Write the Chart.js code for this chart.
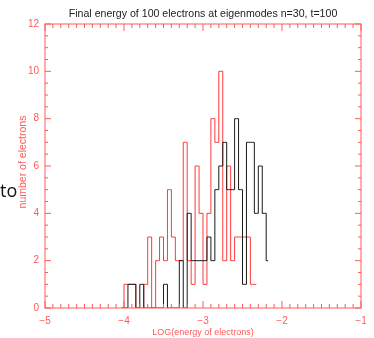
<!DOCTYPE html>
<html>
<head>
<meta charset="utf-8">
<script src="https://cdn.jsdelivr.net/npm/chart.js@4"></script>
<style>
  body { margin: 0; background: #fff; }
  #wrap { position: relative; width: 374px; height: 338px; overflow: hidden; }
  #stray { position: absolute; left: 0px; top: 178px; font: 18px "Open Sans", sans-serif; color: #111; }
</style>
</head>
<body>
<div id="wrap">
  <canvas id="chart" width="374" height="338"></canvas>
  <div id="stray">to</div>
</div>
<script>
// histogram bin centres, LOG(energy)
const binCenters = [
  -4.025, -3.975, -3.925, -3.875, -3.825, -3.775, -3.725, -3.675, -3.625, -3.575,
  -3.525, -3.475, -3.425, -3.375, -3.325, -3.275, -3.225, -3.175, -3.125, -3.075,
  -3.025, -2.975, -2.925, -2.875, -2.825, -2.775, -2.725, -2.675, -2.625, -2.575,
  -2.525, -2.475, -2.425, -2.375, -2.325, -2.275, -2.225, -2.175
];
// red curve stops at -2.325
const redCounts = [
  0, 1, 1, 1, 0, 0, 1, 3, 0, 2,
  3, 2, 5, 3, 2, 2, 7, 2, 1, 6,
  4, 1, 4, 8, 7, 10, 2, 6, 2, 3,
  3, 3, 3, 1, 1
];
const blackCounts = [
  0, 0, 1, 1, 0, 1, 0, 0, 0, 0,
  0, 1, 0, 0, 0, 2, 0, 4, 2, 2,
  2, 2, 3, 2, 5, 6, 7, 5, 5, 8,
  5, 1, 7, 7, 4, 6, 4, 2
];
const xTicks = [-5, -4, -3, -2, -1];
const yTicks = [0, 2, 4, 6, 8, 10, 12];

const chartTitle = 'Final energy of 100 electrons at eigenmodes n=30, t=100';
const xTitle = 'LOG(energy of electrons)';
const yTitle = 'number of electrons';

const axisColor = '#ff5a5a';
const redLine = '#ff3a3a';
const blackLine = '#1a1a1a';

function toPoints(counts) {
  return counts.map((c, i) => ({ x: binCenters[i], y: c }));
}

// IDL style frame: box on all four sides with inward ticks, plus titles
const frameTicks = {
  id: 'frameTicks',
  afterDatasetsDraw(chart) {
    const { ctx, chartArea: a, scales: { x, y } } = chart;
    ctx.save();
    ctx.strokeStyle = axisColor;
    ctx.lineWidth = 1;
    ctx.strokeRect(a.left, a.top, a.right - a.left, a.bottom - a.top);
    ctx.beginPath();
    for (let i = 0; i <= 40; i++) {
      const px = x.getPixelForValue(xTicks[0] + i * 0.1);
      const len = i % 10 === 0 ? 7 : 4;
      ctx.moveTo(px, a.bottom); ctx.lineTo(px, a.bottom - len);
      ctx.moveTo(px, a.top); ctx.lineTo(px, a.top + len);
    }
    for (let i = 0; i <= 24; i++) {
      const py = y.getPixelForValue(i * 0.5);
      const len = i % 4 === 0 ? 6 : 3;
      ctx.moveTo(a.left, py); ctx.lineTo(a.left + len, py);
      ctx.moveTo(a.right, py); ctx.lineTo(a.right - len, py);
    }
    ctx.stroke();
    ctx.restore();
  },
  afterDraw(chart) {
    const { ctx, chartArea: a } = chart;
    const cx = (a.left + a.right) / 2;
    ctx.save();
    ctx.textAlign = 'center';
    ctx.textBaseline = 'middle';
    ctx.fillStyle = '#222';
    ctx.font = '10.6px "Liberation Sans"';
    ctx.fillText(chartTitle, cx, 14);
    ctx.fillStyle = axisColor;
    ctx.font = '9px "Liberation Sans"';
    ctx.fillText(xTitle, cx, 332.5);
    ctx.translate(23, 162);
    ctx.rotate(-Math.PI / 2);
    ctx.font = '10.5px "Liberation Sans"';
    ctx.fillText(yTitle, 0, 0);
    ctx.restore();
  }
};

new Chart(document.getElementById('chart'), {
  type: 'line',
  data: {
    datasets: [
      {
        label: 'black',
        data: toPoints(blackCounts),
        borderColor: blackLine,
        borderWidth: 1,
        pointRadius: 0,
        stepped: 'middle',
        fill: false
      },
      {
        label: 'red',
        data: toPoints(redCounts),
        borderColor: redLine,
        borderWidth: 1,
        pointRadius: 0,
        stepped: 'middle',
        fill: false
      }
    ]
  },
  options: {
    responsive: false,
    animation: false,
    layout: { padding: { left: 0, right: 13, top: 24, bottom: 0 } },
    plugins: {
      legend: { display: false },
      tooltip: { enabled: false },
      title: { display: false }
    },
    scales: {
      x: {
        type: 'linear',
        min: xTicks[0],
        max: xTicks[xTicks.length - 1],
        afterFit: s => { s.height = 30; },
        afterBuildTicks: s => { s.ticks = xTicks.map(v => ({ value: v })); },
        grid: { display: false, drawTicks: false },
        border: { display: false },
        ticks: {
          color: axisColor,
          padding: 7,
          maxRotation: 0,
          font: { family: 'Liberation Sans', size: 10 },
          callback: v => (v < 0 ? '\u2212' + Math.abs(v) : String(v))
        }
      },
      y: {
        min: 0,
        max: 12,
        afterFit: s => { s.width = 45; },
        afterBuildTicks: s => { s.ticks = yTicks.map(v => ({ value: v })); },
        grid: { display: false, drawTicks: false },
        border: { display: false },
        ticks: {
          color: axisColor,
          padding: 6,
          font: { family: 'Liberation Sans', size: 10 }
        }
      }
    }
  },
  plugins: [frameTicks]
});
</script>
</body>
</html>
